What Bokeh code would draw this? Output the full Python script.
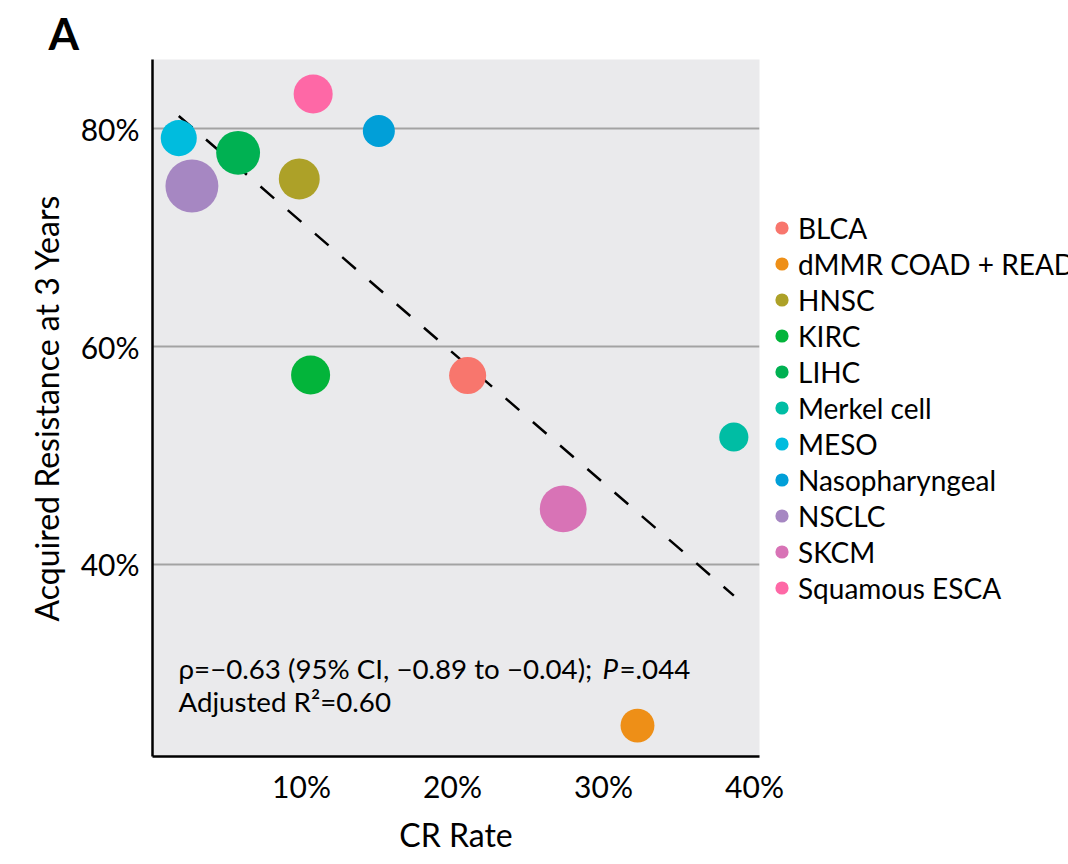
from bokeh.plotting import figure
from bokeh.models import (ColumnDataSource, Range1d, FixedTicker, PrintfTickFormatter,
                          Label, Legend, LegendItem)
from bokeh.embed import file_html
from bokeh.resources import INLINE
import numpy as np

# ---- data ----
cancers = ["BLCA", "dMMR COAD + READ", "HNSC", "KIRC", "LIHC", "Merkel cell",
           "MESO", "Nasopharyngeal", "NSCLC", "SKCM", "Squamous ESCA"]
cr_rate = [21.0, 32.25, 9.85, 10.6, 5.8, 38.63, 1.87, 15.12, 2.74, 27.33, 10.77]
acq_res = [57.35, 25.2, 75.4, 57.4, 77.8, 51.7, 79.15, 79.8, 74.75, 45.1, 83.2]
n_patients = [55, 46, 67, 61, 77, 34, 52, 41, 112, 88, 61]
colors = ["#F8766D", "#EE8F17", "#ADA128", "#03B43A", "#00B152", "#00BDA4",
          "#00BCDE", "#019FD8", "#A687C2", "#D873B6", "#FE68A6"]
x_ticks = [10, 20, 30, 40]
y_ticks = [40, 60, 80]

FONT = "Lato"

src = ColumnDataSource(dict(
    x=cr_rate, y=acq_res, cancer=cancers, color=colors,
    size=[5.0 * np.sqrt(n) for n in n_patients],
))

p = figure(output_backend="svg", toolbar_location=None,
           frame_width=607, frame_height=697,
           min_border_left=152, min_border_top=59,
           min_border_right=290, min_border_bottom=100,
           x_range=Range1d(0.13, 40.33), y_range=Range1d(22.36, 86.37))

p.background_fill_color = "#EAEAEC"
p.border_fill_color = "white"
p.outline_line_color = None

# panel letter as title
p.title.text = "A"
p.title.text_font = FONT
p.title.text_font_size = "44px"
p.title.text_font_style = "bold"
p.title.text_color = "black"
p.title.align = "left"
p.title.offset = -104
p.title.standoff = 1

# grid
p.xgrid.grid_line_color = None
p.ygrid.grid_line_color = "#A3A3A3"
p.ygrid.grid_line_width = 2
p.ygrid.ticker = FixedTicker(ticks=y_ticks)

# axes
for ax in (p.xaxis[0], p.yaxis[0]):
    ax.axis_line_color = "black"
    ax.axis_line_width = 2.5
    ax.major_tick_line_color = None
    ax.minor_tick_line_color = None
    ax.major_label_text_font = FONT
    ax.major_label_text_font_size = "30px"
    ax.major_label_text_color = "black"
    ax.axis_label_text_font = FONT
    ax.axis_label_text_font_size = "32px"
    ax.axis_label_text_font_style = "normal"
    ax.axis_label_text_color = "black"
    ax.formatter = PrintfTickFormatter(format="%d%%")

p.xaxis.ticker = FixedTicker(ticks=x_ticks)
p.yaxis.ticker = FixedTicker(ticks=y_ticks)
p.xaxis.axis_label = "CR Rate"
p.yaxis.axis_label = "Acquired Resistance at 3 Years"
p.xaxis.major_label_standoff = 5
p.yaxis.major_label_standoff = 7
p.xaxis.axis_label_standoff = 8
p.yaxis.axis_label_standoff = 12

# regression line (OLS on the points)
xa = np.array(cr_rate)
ya = np.array(acq_res)
slope, intercept = np.polyfit(xa, ya, 1)
xl = np.array([xa.min(), xa.max()])
p.line(xl, intercept + slope * xl, line_color="black", line_width=2.5,
       line_dash="18 18")

# bubbles
r = p.scatter("x", "y", source=src, size="size", fill_color="color",
              line_color=None, marker="circle")

legend = Legend(items=[LegendItem(label=c, renderers=[r], index=i)
                       for i, c in enumerate(cancers)],
                location="left")
legend.glyph_width = 33
legend.glyph_height = 33
legend.label_height = 33
legend.spacing = 2
legend.padding = 0
legend.margin = 6
legend.label_standoff = 0
legend.border_line_color = None
legend.background_fill_alpha = 0
legend.label_text_font = FONT
legend.label_text_font_size = "28px"
legend.label_text_color = "black"
p.add_layout(legend, "right")

# annotation text
lab_kw = dict(x_units="screen", y_units="screen", text_font=FONT,
              text_font_size="27.7px", text_color="black", text_baseline="alphabetic")
p.add_layout(Label(x=26, y=88, text="ρ=−0.63 (95% CI, −0.89 to −0.04); ", **lab_kw))
p.add_layout(Label(x=450, y=88, text="P", text_font_style="italic", **lab_kw))
p.add_layout(Label(x=467, y=88, text="=.044", **lab_kw))
p.add_layout(Label(x=26, y=55, text="Adjusted R²=0.60", **lab_kw))

open("out.html", "w").write(file_html(p, INLINE))
